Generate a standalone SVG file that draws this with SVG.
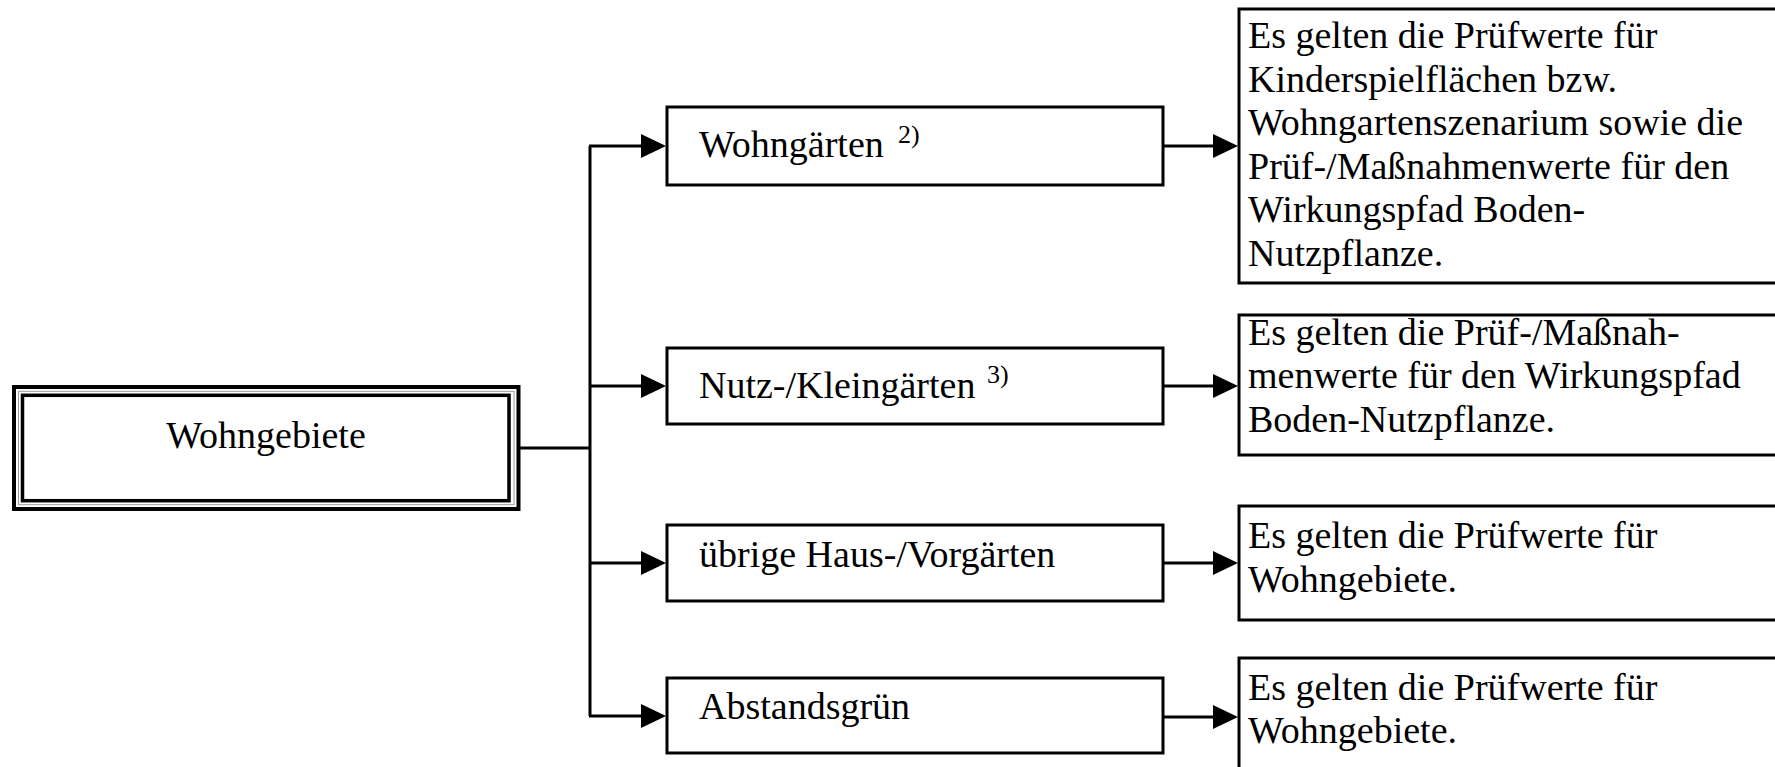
<svg xmlns="http://www.w3.org/2000/svg" width="1775" height="767" viewBox="0 0 1775 767">
  <style>
    .box { fill: #ffffff; stroke: #000000; stroke-width: 3; }
    .t { font-family: "Liberation Serif", "Times New Roman", serif; font-size: 38px; fill: #000000; }
    .sup { font-family: "Liberation Serif", "Times New Roman", serif; font-size: 26px; fill: #000000; }
    .conn { fill: none; stroke: #000000; stroke-width: 3; }
  </style>
  <defs>
    <marker id="ah" markerUnits="userSpaceOnUse" markerWidth="26" markerHeight="24" refX="0" refY="12" orient="auto">
      <path d="M0,0 L25,12 L0,24 Z" fill="#000000"/>
    </marker>
  </defs>
  <rect width="1775" height="767" fill="#ffffff"/>

  <g id="connectors">
    <path class="conn" d="M520,448 H590"/>
    <path class="conn" d="M590,146 V716"/>
    <path class="conn" d="M589,146 H641" marker-end="url(#ah)"/>
    <path class="conn" d="M589,386 H641" marker-end="url(#ah)"/>
    <path class="conn" d="M589,563 H641" marker-end="url(#ah)"/>
    <path class="conn" d="M589,716 H641" marker-end="url(#ah)"/>
    <path class="conn" d="M1164,146 H1213" marker-end="url(#ah)"/>
    <path class="conn" d="M1164,386 H1213" marker-end="url(#ah)"/>
    <path class="conn" d="M1164,563 H1213" marker-end="url(#ah)"/>
    <path class="conn" d="M1164,717 H1213" marker-end="url(#ah)"/>
  </g>

  <g id="wohngebiete">
    <rect x="14" y="387" width="504.5" height="122" fill="#ffffff" stroke="#000000" stroke-width="4"/>
    <rect x="18.5" y="391.3" width="495.5" height="113.4" fill="none" stroke="#9a9a9a" stroke-width="1"/>
    <rect x="22.5" y="395.3" width="486.5" height="105.4" fill="none" stroke="#000000" stroke-width="3.5"/>
    <text class="t" x="266" y="448" text-anchor="middle">Wohngebiete</text>
  </g>

  <g id="wohngaerten">
    <rect class="box" x="667" y="107" width="496" height="78"/>
    <text class="t" x="699" y="157">Wohngärten <tspan class="sup" x="898" y="143">2)</tspan></text>
  </g>

  <g id="nutzgaerten">
    <rect class="box" x="667" y="348" width="496" height="76"/>
    <text class="t" x="699" y="398">Nutz-/Kleingärten <tspan class="sup" x="987" y="383">3)</tspan></text>
  </g>

  <g id="hausgaerten">
    <rect class="box" x="667" y="525" width="496" height="76"/>
    <text class="t" x="699" y="567">übrige Haus-/Vorgärten</text>
  </g>

  <g id="abstandsgruen">
    <rect class="box" x="667" y="678" width="496" height="75"/>
    <text class="t" x="699" y="719">Abstandsgrün</text>
  </g>

  <g id="regel-wohngaerten">
    <rect class="box" x="1239" y="9" width="545" height="274"/>
    <text class="t">
      <tspan x="1248" y="48">Es gelten die Prüfwerte für</tspan>
      <tspan x="1248" y="92">Kinderspielflächen bzw.</tspan>
      <tspan x="1248" y="135">Wohngartenszenarium sowie die</tspan>
      <tspan x="1248" y="179">Prüf-/Maßnahmenwerte für den</tspan>
      <tspan x="1248" y="222">Wirkungspfad Boden-</tspan>
      <tspan x="1248" y="266">Nutzpflanze.</tspan>
    </text>
  </g>

  <g id="regel-nutzgaerten">
    <rect class="box" x="1239" y="315" width="545" height="140"/>
    <text class="t">
      <tspan x="1248" y="345">Es gelten die Prüf-/Maßnah-</tspan>
      <tspan x="1248" y="388">menwerte für den Wirkungspfad</tspan>
      <tspan x="1248" y="432">Boden-Nutzpflanze.</tspan>
    </text>
  </g>

  <g id="regel-hausgaerten">
    <rect class="box" x="1239" y="506" width="545" height="114"/>
    <text class="t">
      <tspan x="1248" y="548">Es gelten die Prüfwerte für</tspan>
      <tspan x="1248" y="592">Wohngebiete.</tspan>
    </text>
  </g>

  <g id="regel-abstandsgruen">
    <rect class="box" x="1239" y="658" width="545" height="140"/>
    <text class="t">
      <tspan x="1248" y="700">Es gelten die Prüfwerte für</tspan>
      <tspan x="1248" y="743">Wohngebiete.</tspan>
    </text>
  </g>
</svg>
